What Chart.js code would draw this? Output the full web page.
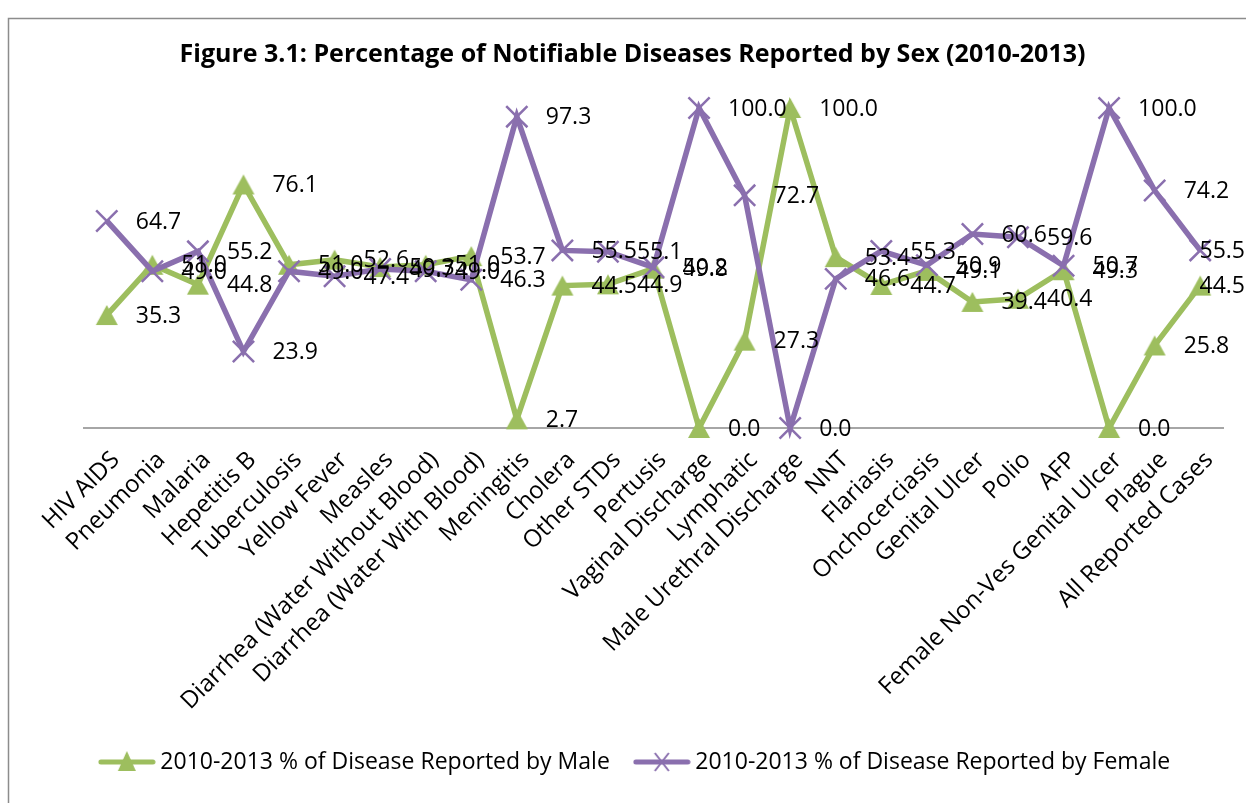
<!DOCTYPE html>
<html>
<head>
<meta charset="utf-8">
<script src="https://cdn.jsdelivr.net/npm/chart.js@4.4.0/dist/chart.umd.min.js"></script>
<style>
  html, body { margin: 0; padding: 0; background: #ffffff; }
  #wrap { width: 1246px; height: 803px; position: relative; }
</style>
</head>
<body>
<div id="wrap"><canvas id="c" width="1246" height="803"></canvas></div>
<script>
const chartTitle = 'Figure 3.1: Percentage of Notifiable Diseases Reported by Sex (2010-2013)';
const categories = [
  'HIV AIDS', 'Pneumonia', 'Malaria', 'Hepetitis B', 'Tuberculosis', 'Yellow Fever', 'Measles',
  'Diarrhea (Water Without Blood)', 'Diarrhea (Water With Blood)', 'Meningitis', 'Cholera',
  'Other STDs', 'Pertusis', 'Vaginal Discharge', 'Lymphatic', 'Male Urethral Discharge', 'NNT',
  'Flariasis', 'Onchocerciasis', 'Genital Ulcer', 'Polio', 'AFP', 'Female Non-Ves Genital Ulcer',
  'Plague', 'All Reported Cases'
];
const maleLabel = '2010-2013 % of Disease Reported by Male';
const femaleLabel = '2010-2013 % of Disease Reported by Female';
const maleValues = [35.3, 51.0, 44.8, 76.1, 51.0, 52.6, 50.3, 51.0, 53.7, 2.7, 44.5, 44.9, 49.8, 0.0, 27.3, 100.0, 53.4, 44.7, 49.1, 39.4, 40.4, 49.3, 0.0, 25.8, 44.5];
const femaleValues = [64.7, 49.0, 55.2, 23.9, 49.0, 47.4, 49.7, 49.0, 46.3, 97.3, 55.5, 55.1, 50.2, 100.0, 72.7, 0.0, 46.6, 55.3, 50.9, 60.6, 59.6, 50.7, 100.0, 74.2, 55.5];

const GREEN = '#9DBE5E';
const PURPLE = '#8A6FAE';
const FONT = "'Open Sans', 'DejaVu Sans', sans-serif";

function makeIcon(color, kind) {
  const c = document.createElement('canvas');
  c.width = 58; c.height = 26;
  const g = c.getContext('2d');
  g.strokeStyle = color; g.lineWidth = 5; g.lineCap = 'round';
  g.beginPath(); g.moveTo(3, 13); g.lineTo(55, 13); g.stroke();
  if (kind === 'tri') {
    g.fillStyle = color;
    g.beginPath(); g.moveTo(29, 2); g.lineTo(38, 22); g.lineTo(20, 22); g.closePath(); g.fill();
  } else {
    g.lineWidth = 2; g.lineCap = 'butt';
    g.beginPath(); g.moveTo(22, 4); g.lineTo(36, 22); g.moveTo(36, 4); g.lineTo(22, 22); g.stroke();
  }
  return c;
}
function makeTriangle(color) {
  const c = document.createElement('canvas');
  c.width = 24; c.height = 22;
  const g = c.getContext('2d');
  g.fillStyle = color;
  g.beginPath(); g.moveTo(12, 1); g.lineTo(23, 21); g.lineTo(1, 21); g.closePath(); g.fill();
  return c;
}
const icons = [makeIcon(GREEN, 'tri'), makeIcon(PURPLE, 'x')];
const triMarker = makeTriangle(GREEN);

const framePlugin = {
  id: 'frame',
  beforeDraw(chart) {
    const ctx = chart.ctx;
    ctx.save();
    ctx.fillStyle = '#ffffff';
    ctx.fillRect(0, 0, chart.width, chart.height);
    ctx.strokeStyle = '#8c8c8c';
    ctx.lineWidth = 1.5;
    ctx.strokeRect(8.5, 18.5, chart.width + 10, chart.height + 10);
    ctx.restore();
  },
  afterLayout(chart) {
    if (chart.titleBlock) { chart.titleBlock.left -= 21; chart.titleBlock.right -= 21; }
    if (chart.legend) { chart.legend.left -= 16; chart.legend.right -= 16; }
  }
};

const valueLabelPlugin = {
  id: 'valueLabels',
  afterDatasetsDraw(chart) {
    const ctx = chart.ctx;
    ctx.save();
    ctx.font = '23px ' + FONT;
    ctx.fillStyle = '#000000';
    ctx.textAlign = 'left';
    ctx.textBaseline = 'middle';
    chart.data.datasets.forEach((ds, di) => {
      const meta = chart.getDatasetMeta(di);
      meta.data.forEach((pt, i) => {
        const txt = Number(ds.data[i]).toFixed(1);
        const w = ctx.measureText(txt).width;
        const x = Math.min(pt.x + 29, chart.width - w - 1);
        ctx.fillText(txt, x, pt.y + 1);
      });
    });
    ctx.restore();
  }
};

new Chart(document.getElementById('c'), {
  type: 'line',
  data: {
    labels: categories,
    datasets: [
      {
        label: maleLabel,
        data: maleValues,
        order: 1,
        borderColor: GREEN,
        backgroundColor: GREEN,
        borderWidth: 5.5,
        pointStyle: triMarker,
        pointRadius: 12,
        pointBackgroundColor: GREEN,
        pointBorderColor: GREEN,
        tension: 0,
        clip: false
      },
      {
        label: femaleLabel,
        data: femaleValues,
        order: 0,
        borderColor: PURPLE,
        backgroundColor: PURPLE,
        borderWidth: 5.5,
        pointStyle: 'crossRot',
        pointRadius: 15,
        pointBorderWidth: 2.5,
        pointBorderColor: PURPLE,
        tension: 0,
        clip: false
      }
    ]
  },
  options: {
    responsive: false,
    animation: false,
    events: [],
    layout: { padding: { left: 84, right: 23, top: 0, bottom: 19.5 } },
    scales: {
      x: {
        offset: true,
        grid: { display: false, drawTicks: false },
        border: { display: true, color: '#a6a6a6', width: 2 },
        ticks: {
          autoSkip: false,
          maxRotation: 45,
          minRotation: 45,
          padding: 18,
          labelOffset: 9,
          color: '#000000',
          font: { family: FONT, size: 24 }
        },
        afterFit(scale) {
          scale.paddingLeft = 0;
          scale.paddingRight = 0;
          scale.height = 292.5;
        }
      },
      y: {
        display: false,
        min: 0,
        max: 100
      }
    },
    plugins: {
      title: {
        display: true,
        text: chartTitle,
        color: '#000000',
        font: { family: FONT, size: 25, weight: 'bold', lineHeight: 1.2 },
        padding: { top: 40, bottom: 38 }
      },
      legend: {
        display: true,
        position: 'bottom',
        labels: {
          usePointStyle: true,
          pointStyleWidth: 44,
          padding: 30,
          color: '#000000',
          font: { family: FONT, size: 23 },
          generateLabels(chart) {
            const items = Chart.defaults.plugins.legend.labels.generateLabels(chart);
            items.sort((a, b) => a.datasetIndex - b.datasetIndex);
            items.forEach((it) => { it.pointStyle = icons[it.datasetIndex]; });
            return items;
          }
        }
      },
      tooltip: { enabled: false }
    }
  },
  plugins: [framePlugin, valueLabelPlugin]
});
</script>
</body>
</html>
